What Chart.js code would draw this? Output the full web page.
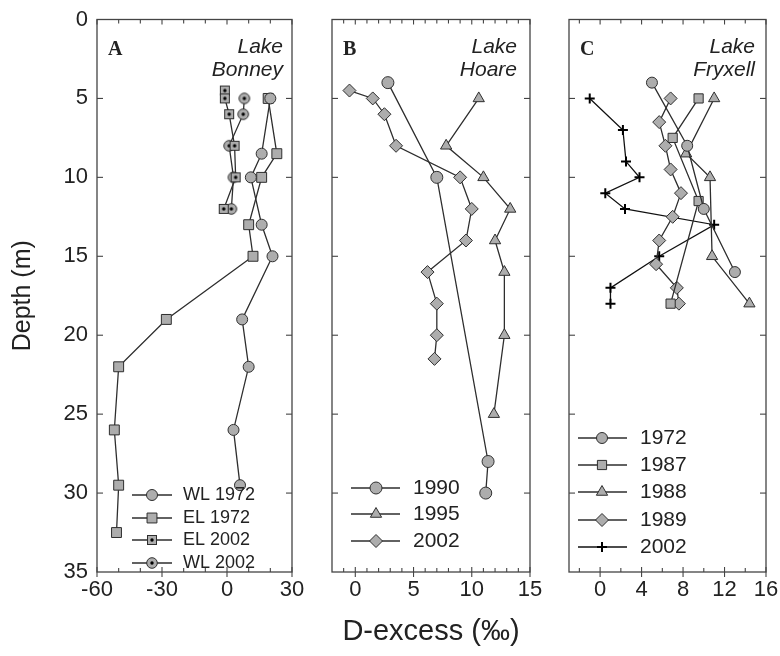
<!DOCTYPE html>
<html>
<head>
<meta charset="utf-8">
<script src="https://cdn.jsdelivr.net/npm/chart.js@4.4.1/dist/chart.umd.min.js"></script>
<style>
  body { margin: 0; background: #fff; }
  #wrap { position: relative; width: 780px; height: 656px; }
  #wrap canvas { position: absolute; left: 0; top: 0; }
</style>
</head>
<body>
<div id="wrap">
  <canvas id="chartA" width="780" height="656"></canvas>
  <canvas id="chartB" width="780" height="656"></canvas>
  <canvas id="chartC" width="780" height="656"></canvas>
</div>
<script>
// === DATA ===
// depth axis, shared by the three panels
const depthTicks = [0, 5, 10, 15, 20, 25, 30, 35];

// A - Lake Bonney
const ticksA = [-60, -30, 0, 30];
const minorA = [-50, -40, -20, -10, 10, 20];
const wl1972Depth = [5, 8.5, 10, 13, 15, 19, 22, 26, 29.5];
const wl1972Dex   = [20, 16, 11, 16, 21, 7, 10, 3, 6];
const el1972Depth = [5, 8.5, 10, 13, 15, 19, 22, 26, 29.5, 32.5];
const el1972Dex   = [19, 23, 16, 10, 12, -28, -50, -52, -50, -51];
const el2002Depth = [4.5, 5, 6, 8, 10, 12];
const el2002Dex   = [-1, -1, 1, 3.5, 4, -1.5];
const wl2002Depth = [5, 6, 8, 10, 12];
const wl2002Dex   = [8, 7.5, 1, 3, 2];

// B - Lake Hoare
const ticksB = [0, 5, 10, 15];
const minorB = [-1, 1, 2, 3, 4, 6, 7, 8, 9, 11, 12, 13, 14];
const h1990Depth = [4, 10, 28, 30];
const h1990Dex   = [2.8, 7, 11.4, 11.2];
const h1995Depth = [5, 8, 10, 12, 14, 16, 20, 25];
const h1995Dex   = [10.6, 7.8, 11, 13.3, 12, 12.8, 12.8, 11.9];
const h2002Depth = [4.5, 5, 6, 8, 10, 12, 14, 16, 18, 20, 21.5];
const h2002Dex   = [-0.5, 1.5, 2.5, 3.5, 9, 10, 9.5, 6.2, 7, 7, 6.8];

// C - Lake Fryxell
const ticksC = [0, 4, 8, 12, 16];
const minorC = [-2, 2, 6, 10, 14];
const f1972Depth = [4, 8, 12, 16];
const f1972Dex   = [5, 8.4, 10, 13];
const f1987Depth = [5, 7.5, 11.5, 18];
const f1987Dex   = [9.5, 7, 9.5, 6.8];
const f1988Depth = [5, 8.5, 10, 15, 18];
const f1988Dex   = [11, 8.3, 10.6, 10.8, 14.4];
const f1989Depth = [5, 6.5, 8, 9.5, 11, 12.5, 14, 15.5, 17, 18];
const f1989Dex   = [6.8, 5.7, 6.3, 6.8, 7.8, 7, 5.7, 5.4, 7.4, 7.6];
const f2002Depth = [5, 7, 9, 10, 11, 12, 13, 15, 17, 18];
const f2002Dex   = [-1, 2.2, 2.5, 3.8, 0.5, 2.4, 11, 5.7, 1, 1];

// === STYLE ===
const FONT = "'Liberation Sans', Arial, sans-serif";
const lineColor = "#2e2e2e";
const markFill = "#adadad";
const frameColor = "#444";
const textColor = "#222";

function pts(depth, dex) {
  return depth.map((d, i) => ({ x: dex[i], y: d }));
}

// square / circle with a black dot in the middle (2002 profiles in Bonney)
function dotMarker(shape) {
  const c = document.createElement("canvas");
  c.width = 14; c.height = 14;
  const g = c.getContext("2d");
  g.fillStyle = markFill;
  g.strokeStyle = lineColor;
  g.lineWidth = 1;
  if (shape === "rect") {
    g.fillRect(2, 2, 10, 10);
    g.strokeRect(2.5, 2.5, 9, 9);
  } else {
    g.beginPath(); g.arc(7, 7, 5.3, 0, Math.PI * 2); g.fill(); g.stroke();
  }
  g.fillStyle = "#000";
  g.beginPath(); g.arc(7, 7, 1.7, 0, Math.PI * 2); g.fill();
  return c;
}

function series(label, depth, dex, style, radius, extra) {
  return Object.assign({
    label,
    data: pts(depth, dex),
    showLine: true,
    borderColor: lineColor,
    borderWidth: 1.3,
    backgroundColor: markFill,
    pointStyle: style,
    pointRadius: radius,
    pointBorderWidth: 1,
    pointBorderColor: lineColor,
    pointBackgroundColor: markFill
  }, extra || {});
}

// frame, inward ticks, panel letter, lake name and legend
const panelDecor = {
  id: "panelDecor",
  afterDraw(chart, args, o) {
    const ctx = chart.ctx;
    const a = chart.chartArea;
    const xs = chart.scales.x, ys = chart.scales.y;
    const seg = (x1, y1, x2, y2) => { ctx.beginPath(); ctx.moveTo(x1, y1); ctx.lineTo(x2, y2); ctx.stroke(); };
    ctx.save();
    ctx.strokeStyle = frameColor;
    ctx.lineWidth = 1.3;
    ctx.strokeRect(a.left, a.top, a.right - a.left, a.bottom - a.top);
    ctx.lineWidth = 1.1;
    depthTicks.slice(1, -1).forEach(d => {
      const py = ys.getPixelForValue(d);
      seg(a.left, py, a.left + 6, py);
      seg(a.right - 6, py, a.right, py);
    });
    o.major.forEach(v => {
      const px = xs.getPixelForValue(v);
      seg(px, a.bottom - 5, px, a.bottom + 5);
      seg(px, a.top, px, a.top + 5);
    });
    o.minor.forEach(v => {
      const px = xs.getPixelForValue(v);
      seg(px, a.bottom - 4, px, a.bottom);
      seg(px, a.top, px, a.top + 4);
    });

    ctx.fillStyle = textColor;
    ctx.textBaseline = "alphabetic";
    ctx.textAlign = "left";
    ctx.font = "bold 20px 'Liberation Serif', serif";
    ctx.fillText(o.letter, a.left + 11, 55);
    ctx.textAlign = "right";
    ctx.font = "italic 21px " + FONT;
    ctx.fillText("Lake", a.right - o.nameInset, 53);
    ctx.fillText(o.lake, a.right - o.nameInset, 76);

    // legend
    const lg = o.legend;
    ctx.font = lg.size + "px " + FONT;
    ctx.textBaseline = "middle";
    ctx.textAlign = "left";
    chart.data.datasets.forEach((ds, i) => {
      const y = lg.ys[i];
      ctx.strokeStyle = ds.borderColor;
      ctx.lineWidth = 1.3;
      seg(lg.x1, y, lg.x2, y);
      const st = ds.pointStyle;
      if (st instanceof HTMLCanvasElement) {
        ctx.drawImage(st, lg.xm - st.width / 2, y - st.height / 2);
      } else {
        ctx.fillStyle = ds.pointBackgroundColor;
        ctx.strokeStyle = ds.pointBorderColor;
        ctx.lineWidth = ds.pointBorderWidth;
        Chart.helpers.drawPoint(ctx, {
          pointStyle: st, radius: ds.pointRadius, rotation: 0,
          borderWidth: ds.pointBorderWidth
        }, lg.xm, y);
      }
      ctx.fillStyle = textColor;
      ctx.fillText(ds.label, lg.xt, y);
    });
    ctx.restore();
  }
};

function makePanel(id, cfg) {
  return new Chart(document.getElementById(id), {
    type: "scatter",
    data: { datasets: cfg.datasets },
    options: {
      responsive: false,
      animation: false,
      devicePixelRatio: 1,
      layout: { padding: { left: cfg.padLeft, right: cfg.padRight, top: 19.5, bottom: 0 } },
      scales: {
        x: {
          type: "linear",
          position: "bottom",
          min: cfg.xMin,
          max: cfg.xTicks[cfg.xTicks.length - 1],
          afterBuildTicks: s => { s.ticks = cfg.xTicks.map(v => ({ value: v })); },
          afterFit: s => { s.height = 84; s.paddingLeft = 0; s.paddingRight = 0; },
          grid: { display: false, drawTicks: false },
          border: { display: false },
          ticks: { font: { family: FONT, size: 22 }, color: textColor, padding: 5, maxRotation: 0, autoSkip: false },
          title: cfg.xTitle || { display: false }
        },
        y: {
          type: "linear",
          display: cfg.showY,
          reverse: true,
          min: 0,
          max: 35,
          afterBuildTicks: s => { s.ticks = depthTicks.map(v => ({ value: v })); },
          afterFit: s => { if (cfg.showY) s.width = 97; s.paddingTop = 0; s.paddingBottom = 0; },
          grid: { display: false, drawTicks: false },
          border: { display: false },
          ticks: { font: { family: FONT, size: 22 }, color: textColor, padding: 9 },
          title: { display: true, text: "Depth (m)", color: textColor, font: { family: FONT, size: 25 }, padding: { top: 8 } }
        }
      },
      plugins: {
        legend: { display: false },
        tooltip: { enabled: false },
        panelDecor: cfg.decor
      }
    },
    plugins: [panelDecor]
  });
}

makePanel("chartA", {
  padLeft: 0, padRight: 488, showY: true,
  xTicks: ticksA, xMin: -60,
  datasets: [
    series("WL 1972", wl1972Depth, wl1972Dex, "circle", 5.5),
    series("EL 1972", el1972Depth, el1972Dex, "rect", 7),
    series("EL 2002", el2002Depth, el2002Dex, dotMarker("rect"), 7),
    series("WL 2002", wl2002Depth, wl2002Dex, dotMarker("circle"), 7)
  ],
  decor: {
    major: ticksA, minor: minorA, letter: "A", lake: "Bonney", nameInset: 9,
    legend: { x1: 132, x2: 172, xm: 152, xt: 183, ys: [495, 518, 540, 563], size: 18 }
  }
});

makePanel("chartB", {
  padLeft: 332, padRight: 250, showY: false,
  xTicks: ticksB, xMin: -2,
  xTitle: { display: true, text: "D-excess (‰)", color: textColor, font: { family: FONT, size: 29 }, padding: { bottom: 7 } },
  datasets: [
    series("1990", h1990Depth, h1990Dex, "circle", 6),
    series("1995", h1995Depth, h1995Dex, "triangle", 6.5),
    series("2002", h2002Depth, h2002Dex, "rectRot", 6.5)
  ],
  decor: {
    major: ticksB, minor: minorB, letter: "B", lake: "Hoare", nameInset: 13,
    legend: { x1: 351, x2: 400, xm: 376, xt: 413, ys: [488, 514, 541], size: 21 }
  }
});

makePanel("chartC", {
  padLeft: 569, padRight: 14, showY: false,
  xTicks: ticksC, xMin: -3,
  datasets: [
    series("1972", f1972Depth, f1972Dex, "circle", 5.5),
    series("1987", f1987Depth, f1987Dex, "rect", 6.5),
    series("1988", f1988Depth, f1988Dex, "triangle", 6.5),
    series("1989", f1989Depth, f1989Dex, "rectRot", 6.5),
    series("2002", f2002Depth, f2002Dex, "cross", 5, { borderColor: "#111", pointBorderColor: "#000", pointBorderWidth: 2 })
  ],
  decor: {
    major: ticksC, minor: minorC, letter: "C", lake: "Fryxell", nameInset: 11,
    legend: { x1: 578, x2: 627, xm: 602, xt: 640, ys: [438, 465, 492, 520, 547], size: 21 }
  }
});
</script>
</body>
</html>
